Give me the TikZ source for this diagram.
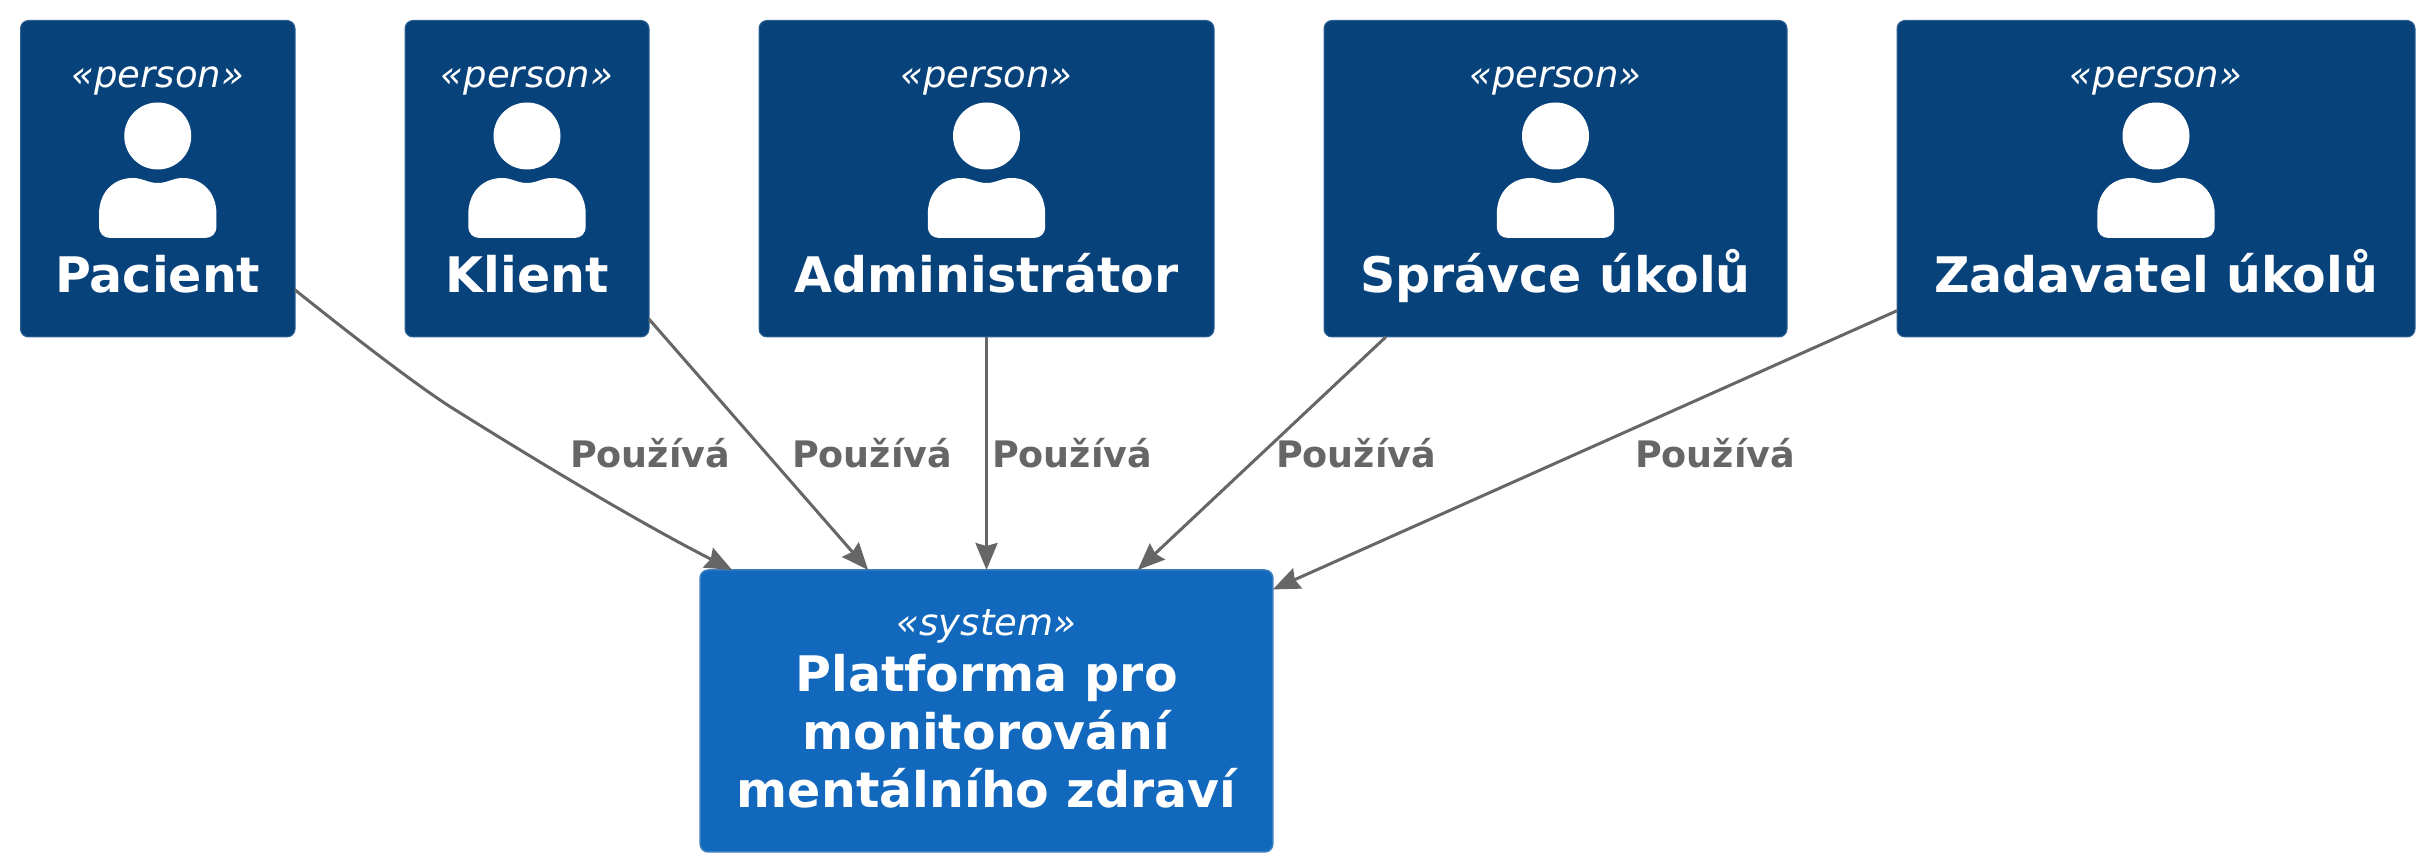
\documentclass[tikz,border=0pt]{standalone}
\usepackage{fontspec}
\setmainfont{DejaVu Sans}
\usetikzlibrary{arrows.meta, positioning, calc}
\definecolor{personblue}{HTML}{08427B}
\definecolor{personedge}{HTML}{2E6295}
\definecolor{systemblue}{HTML}{1168BD}
\definecolor{systemedge}{HTML}{3C7FC0}
\definecolor{linegray}{HTML}{666666}
\tikzset{
  personbox/.style = {rectangle, draw=personedge, fill=personblue, line width=1pt, rounded corners=8pt, minimum height=316.5pt, inner sep=0pt, outer sep=0pt},
  systembox/.style = {rectangle, draw=systemedge, fill=systemblue, line width=1.5pt, rounded corners=8pt, minimum width=572.7pt, minimum height=282pt, inner sep=0pt, outer sep=0pt},
  stereotext/.style = {text=white, anchor=base, inner sep=0pt, font=\fontsize{37}{44}\selectfont\itshape},
  nametext/.style = {text=white, anchor=base, inner sep=0pt, align=center, font=\fontsize{49}{58}\selectfont\bfseries},
  reltext/.style = {text=linegray, anchor=base, inner sep=0pt, font=\fontsize{36.5}{44}\selectfont\bfseries},
  arrow/.style = {draw=linegray, line width=3pt, -{Stealth[length=27pt, width=22pt, inset=3pt]}},
  personicon/.pic = {
    \fill[white] (0,0) circle (33.5);
    \fill[white] (-58.7,-90) -- (-58.7,-78) .. controls (-58.7,-56) and (-44,-42) .. (-25,-42)
      .. controls (-15,-42) and (-10,-47) .. (0,-47) .. controls (10,-47) and (15,-42) .. (25,-42)
      .. controls (44,-42) and (58.7,-56) .. (58.7,-78) -- (58.7,-90)
      .. controls (58.7,-98) and (54,-102) .. (47,-102) -- (-47,-102)
      .. controls (-54,-102) and (-58.7,-98) .. (-58.7,-90) -- cycle;
  }
}
\begin{document}
\begin{tikzpicture}[x=1pt, y=1pt, node distance=110pt]
    \useasboundingbox (0,0) rectangle (2429,867);

    % Top row: the five persons
    \node[personbox, minimum width=274.5pt, anchor=north west] (pacient) at (20.5,846.5) {};
    \node[personbox, minimum width=244pt, right=of pacient] (klient) {};
    \node[personbox, minimum width=455pt, right=of klient] (admin) {};
    \node[personbox, minimum width=463pt, right=of admin] (spravce) {};
    \node[personbox, minimum width=518pt, right=of spravce] (zadavatel) {};

    % Bottom: the system
    \node[systembox, below=233pt of admin] (platforma) {};

    % Inside the person boxes
    \foreach \who/\name in {pacient/Pacient, klient/Klient, admin/Administrátor, spravce/Správce úkolů, zadavatel/Zadavatel úkolů} {
      \node[stereotext] (\who stereo) at ($(\who.north)+(0,-67)$) {«person»};
      \pic at ($(\who.north)+(0,-115.5)$) {personicon};
      \node[nametext] (\who name) at ($(\who.south)+(0,44)$) {\name};
    }

    % Inside the system box
    \node[stereotext] (platformastereo) at ($(platforma.north)+(0,-66)$) {«system»};
    \node[nametext] (platformaname) at ($(platforma.south)+(0,44)$) {Platforma pro\\monitorování\\mentálního zdraví};

    % Arrows to the system
    \draw[arrow] (pacient.-39.8) .. controls (370,517) and (420,480) .. (449,461)
      .. controls (540,404) and (640,344) .. (platforma.151.5);
    \draw[arrow] (klient.-49.5) -- (platforma.130.3);
    \draw[arrow] (admin.south) -- (platforma.north);
    \draw[arrow] (spravce.223.6) -- (platforma.43.6);
    \draw[arrow] (zadavatel.207) -- (platforma.23.5);

    % Labels of the arrows
    \node[reltext] (relpacient) at (650,399) {Používá};
    \node[reltext] (relklient) at (872,399) {Používá};
    \node[reltext] (reladmin) at (1072,399) {Používá};
    \node[reltext] (relspravce) at (1356,399) {Používá};
    \node[reltext] (relzadavatel) at (1715,399) {Používá};

  \end{tikzpicture}
\end{document}
